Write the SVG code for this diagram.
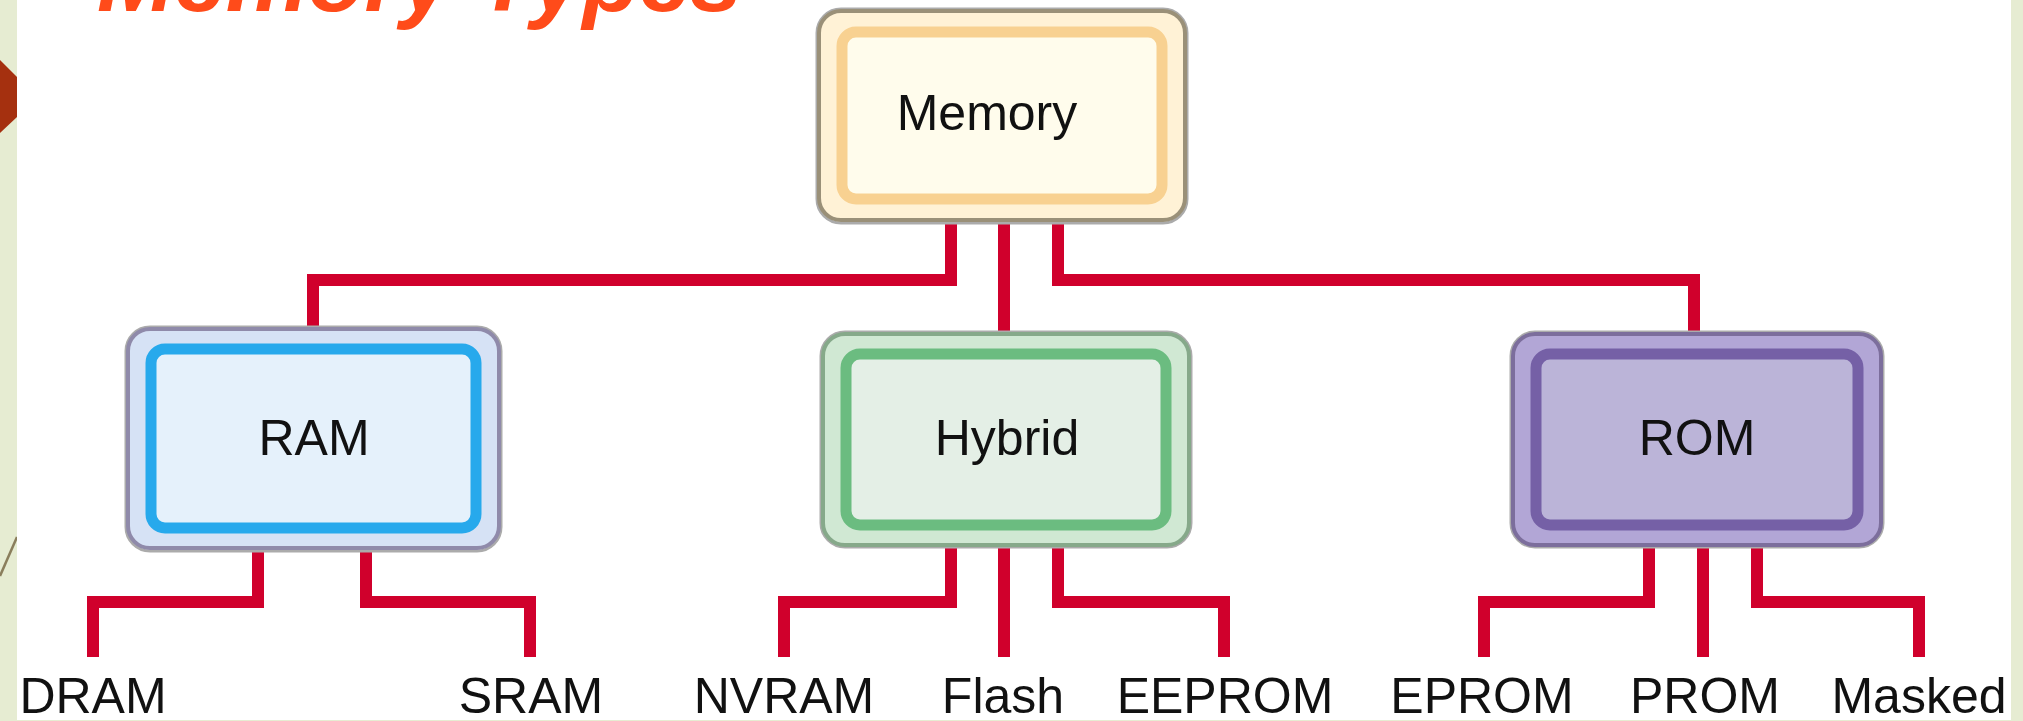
<svg xmlns="http://www.w3.org/2000/svg" width="2023" height="721" viewBox="0 0 2023 721">
<style>
.shade{fill:none;stroke:#ababab;stroke-width:3}
.lbl{font-family:"Liberation Sans",Arial,sans-serif;font-size:50px;fill:#111;text-anchor:middle}
.wire{fill:none;stroke:#d0002c;stroke-width:12;stroke-linejoin:miter;stroke-linecap:butt}
.title{font-family:"Liberation Sans",Arial,sans-serif;font-size:90px;font-weight:bold;font-style:italic;fill:#ff4b1a}
.mem-o{fill:#fff2d6;stroke:#9a9078;stroke-width:4}
.mem-i{fill:#fffcec;stroke:#f8d191;stroke-width:11}
.ram-o{fill:#d6e2f5;stroke:#8f8aaa;stroke-width:4}
.ram-i{fill:#e5f1fb;stroke:#27a9ec;stroke-width:11}
.hyb-o{fill:#d0e8d3;stroke:#86a98a;stroke-width:4}
.hyb-i{fill:#e4efe6;stroke:#6bbc80;stroke-width:11}
.rom-o{fill:#b2a6d6;stroke:#7c6e9c;stroke-width:4}
.rom-i{fill:#bbb4d8;stroke:#7560a6;stroke-width:11}
</style>
<rect x="0" y="0" width="2023" height="721" fill="#e6ecd2"/>
<polygon points="0,60 17,77 17,117 0,133" fill="#a5300f"/>
<line x1="0" y1="576" x2="17" y2="537" stroke="#8a7e5c" stroke-width="2.5"/>
<rect x="17" y="0" width="1994" height="720" fill="#ffffff"/>
<text class="title" x="97" y="11" textLength="645" lengthAdjust="spacingAndGlyphs">Memory Types</text>

<g id="connectors">
<path class="wire" d="M951,221 V280 H313 V328"/>
<path class="wire" d="M1004,221 V333"/>
<path class="wire" d="M1058,221 V280 H1694 V333"/>
<path class="wire" d="M258,549 V602 H93 V657"/>
<path class="wire" d="M366,549 V602 H530 V657"/>
<path class="wire" d="M951,546 V602 H784 V657"/>
<path class="wire" d="M1004,546 V657"/>
<path class="wire" d="M1058,546 V602 H1224 V657"/>
<path class="wire" d="M1649,546 V602 H1484 V657"/>
<path class="wire" d="M1703,546 V657"/>
<path class="wire" d="M1757,546 V602 H1919 V657"/>
</g>

<g id="memory">
<rect class="shade" x="817" y="9" width="370" height="214" rx="24"/>
<rect class="mem-o" x="819" y="11" width="366" height="209" rx="22"/>
<rect class="mem-i" x="842" y="32" width="320" height="167" rx="14"/>
<text class="lbl" x="987" y="130">Memory</text>
</g>

<g id="ram">
<rect class="shade" x="126" y="327" width="375" height="224" rx="24"/>
<rect class="ram-o" x="128" y="329" width="371" height="219" rx="22"/>
<rect class="ram-i" x="151" y="349" width="325" height="179" rx="14"/>
<text class="lbl" x="314" y="455">RAM</text>
</g>

<g id="hybrid">
<rect class="shade" x="821" y="332" width="370" height="215" rx="24"/>
<rect class="hyb-o" x="823" y="334" width="366" height="211" rx="22"/>
<rect class="hyb-i" x="846" y="354" width="320" height="171" rx="14"/>
<text class="lbl" x="1007" y="455">Hybrid</text>
</g>

<g id="rom">
<rect class="shade" x="1511" y="332" width="372" height="215" rx="24"/>
<rect class="rom-o" x="1513" y="334" width="368" height="211" rx="22"/>
<rect class="rom-i" x="1536" y="354" width="322" height="171" rx="14"/>
<text class="lbl" x="1697" y="455">ROM</text>
</g>

<g id="dram"><text class="lbl" x="93" y="713">DRAM</text></g>
<g id="sram"><text class="lbl" x="531" y="713">SRAM</text></g>
<g id="nvram"><text class="lbl" x="784" y="713">NVRAM</text></g>
<g id="flash"><text class="lbl" x="1003" y="713">Flash</text></g>
<g id="eeprom"><text class="lbl" x="1225" y="713">EEPROM</text></g>
<g id="eprom"><text class="lbl" x="1482" y="713">EPROM</text></g>
<g id="prom"><text class="lbl" x="1705" y="713">PROM</text></g>
<g id="masked"><text class="lbl" x="1919" y="713">Masked</text></g>

<rect x="2011" y="0" width="12" height="721" fill="#e6ecd2"/>
</svg>
